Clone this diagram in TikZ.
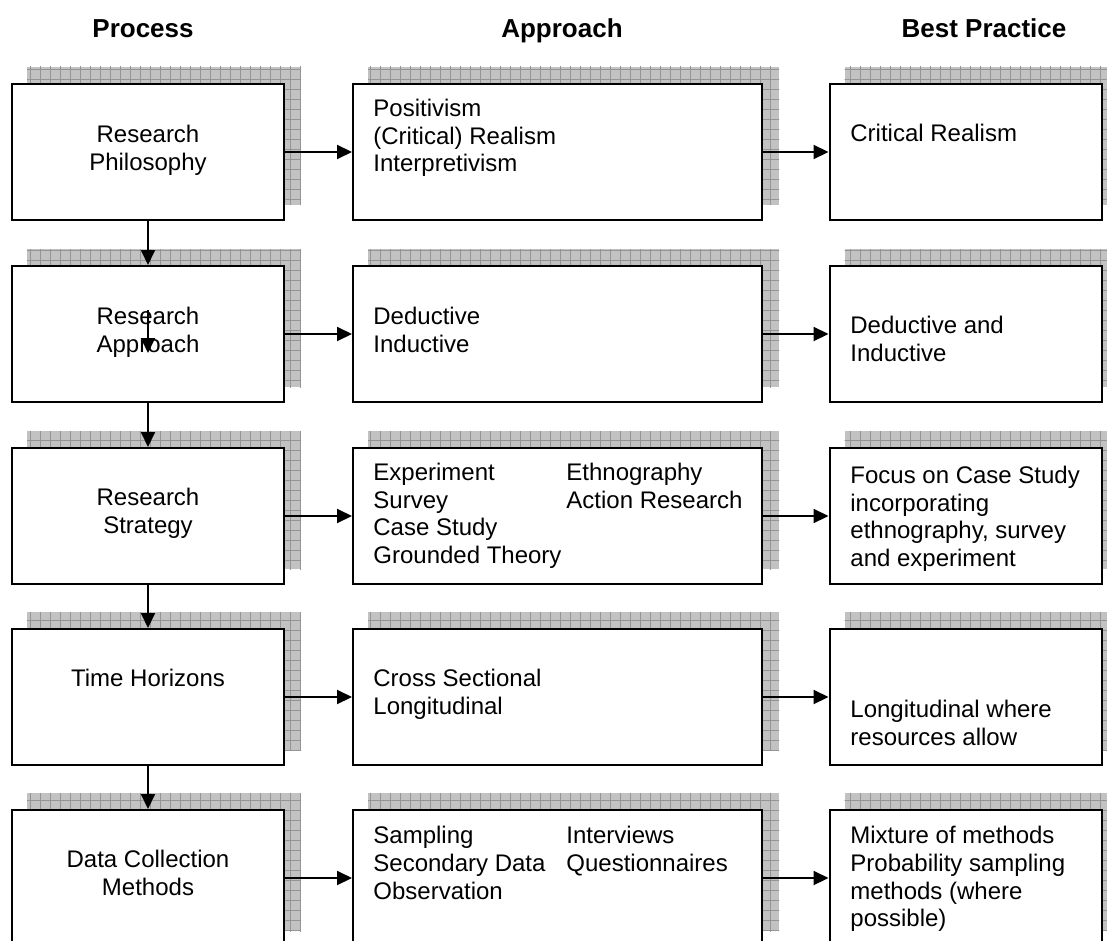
\documentclass[tikz,border=0pt]{standalone}
\usepackage{fontspec}
\setmainfont{Liberation Sans}
\usetikzlibrary{positioning,arrows.meta,backgrounds}

\tikzset{
    procbox/.style={draw, line width=1pt, fill=white, inner sep=0pt,
                    minimum width=136pt, minimum height=68pt},
    widebox/.style={procbox, minimum width=204.5pt},
    boxtext/.style={inner sep=0pt, font=\fontsize{12}{13.8}\selectfont},
    headtext/.style={inner sep=0pt, anchor=base, font=\fontsize{13}{15}\selectfont\bfseries},
    flow/.style={line width=1pt, -{Triangle[length=7.5pt,width=7pt]}},
    shadefill/.style={fill=black!24},
    shadegrid/.style={draw=black!42, line width=0.5pt}
}

\begin{document}
\begin{tikzpicture}[x=0.5pt, y=-0.5pt]
    \useasboundingbox (0,0) rectangle (1107,941);

    % column headings
    \node[headtext] (hproc) at (143,38) {Process};
    \node[headtext] (happr) at (562,38) {Approach};
    \node[headtext] (hbest) at (984,38) {Best Practice};

    % boxes
    \node[procbox] at (148,152)   (proc1) {};
    \node[procbox] at (148,334)   (proc2) {};
    \node[procbox] at (148,516)   (proc3) {};
    \node[procbox] at (148,697)   (proc4) {};
    \node[procbox] at (148,878)   (proc5) {};

    \node[widebox] at (557.5,152) (appr1) {};
    \node[widebox] at (557.5,334) (appr2) {};
    \node[widebox] at (557.5,516) (appr3) {};
    \node[widebox] at (557.5,697) (appr4) {};
    \node[widebox] at (557.5,878) (appr5) {};

    \node[procbox] at (965.5,152) (best1) {};
    \node[procbox] at (965.5,334) (best2) {};
    \node[procbox] at (965.5,516) (best3) {};
    \node[procbox] at (965.5,697) (best4) {};
    \node[procbox] at (965.5,878) (best5) {};

    % hatched shadows behind the boxes
    \begin{scope}[on background layer]
        \foreach \b in {proc1,proc2,proc3,proc4,proc5,appr1,appr2,appr3,appr4,appr5,best1,best2,best3,best4,best5} {
            \begin{scope}
                \clip ([shift={(8pt,8pt)}]\b.south west) rectangle ([shift={(8pt,8pt)}]\b.north east);
                \fill[shadefill] ([shift={(8pt,8pt)}]\b.south west) rectangle ([shift={(8pt,8pt)}]\b.north east);
                \draw[shadegrid, step=5pt] (\b.south west) grid ([shift={(16pt,16pt)}]\b.north east);
            \end{scope}
        }
    \end{scope}

    % texts
    \node[boxtext, anchor=north, align=center] at (148,125) (proc1txt) {Research\\Philosophy};
    \node[boxtext, anchor=north, align=center] at (148,307) (proc2txt) {Research\\Approach};
    \node[boxtext, anchor=north, align=center] at (148,488) (proc3txt) {Research\\Strategy};
    \node[boxtext, anchor=north, align=center] at (148,669) (proc4txt) {Time Horizons};
    \node[boxtext, anchor=north, align=center] at (148,850) (proc5txt) {Data Collection\\Methods};

    \node[boxtext, anchor=north west, align=left] at (373,99)  (appr1txt) {Positivism\\(Critical) Realism\\Interpretivism};
    \node[boxtext, anchor=north west, align=left] at (373,307) (appr2txt) {Deductive\\Inductive};
    \node[boxtext, anchor=north west, align=left] at (373,463) (appr3txt) {Experiment\\Survey\\Case Study\\Grounded Theory};
    \node[boxtext, anchor=north west, align=left] at (566,463) (appr3txtb) {Ethnography\\Action Research};
    \node[boxtext, anchor=north west, align=left] at (373,669) (appr4txt) {Cross Sectional\\Longitudinal};
    \node[boxtext, anchor=north west, align=left] at (373,826) (appr5txt) {Sampling\\Secondary Data\\Observation};
    \node[boxtext, anchor=north west, align=left] at (566,826) (appr5txtb) {Interviews\\Questionnaires};

    \node[boxtext, anchor=north west, align=left] at (850,124) (best1txt) {Critical Realism};
    \node[boxtext, anchor=north west, align=left] at (850,316) (best2txt) {Deductive and\\Inductive};
    \node[boxtext, anchor=north west, align=left] at (850,466) (best3txt) {Focus on Case Study\\incorporating\\ethnography, survey\\and experiment};
    \node[boxtext, anchor=north west, align=left] at (850,700) (best4txt) {Longitudinal where\\resources allow};
    \node[boxtext, anchor=north west, align=left] at (850,826) (best5txt) {Mixture of methods\\Probability sampling\\methods (where\\possible)};

    % connectors
    \foreach \i in {1,...,5} {
        \draw[flow] (proc\i) -- (appr\i);
        \draw[flow] (appr\i) -- (best\i);
    }
    \foreach \i/\j in {1/2,2/3,3/4,4/5}
        \draw[flow] (proc\i.south) -- (proc\j.north);

    \coordinate (stray1) at (148,310);
    \coordinate (stray2) at (148,353);
    \draw[flow] (stray1) -- (stray2);
\end{tikzpicture}
\end{document}
